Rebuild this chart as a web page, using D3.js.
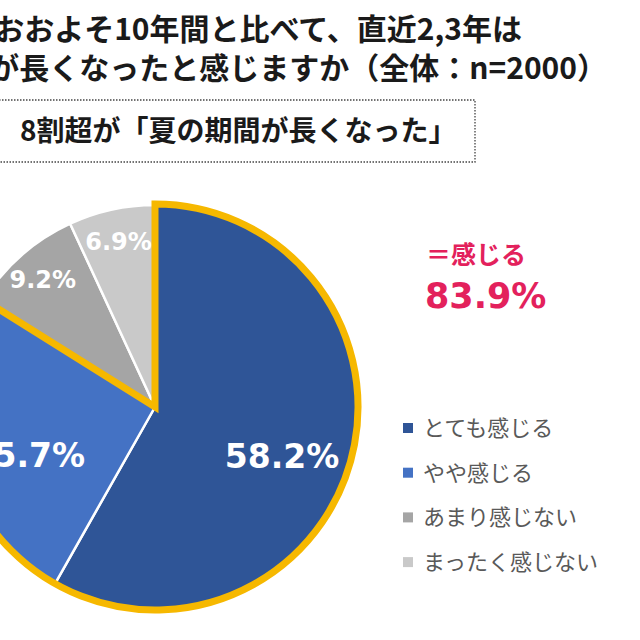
<!DOCTYPE html>
<html>
<head>
<meta charset="utf-8">
<script src="https://cdn.jsdelivr.net/npm/d3@7"></script>
<style>
    body { margin: 0; background: #fff; }
    svg { display: block; }
</style>
</head>
<body>
<svg id="chart" width="640" height="640"></svg>
<script>
"use strict";
var categories = ['とても感じる', 'やや感じる', 'あまり感じない', 'まったく感じない'];
var values = [58.2, 25.7, 9.2, 6.9];
var colors = ['#2f5597', '#4472c4', '#a5a5a5', '#c9c9c9'];
var title_lines = ['過去おおよそ10年間と比べて、直近2,3年は', '夏の期間が長くなったと感じますか（全体：n=2000）'];
var box_text = '8割超が「夏の期間が長くなった」';
var total_label = '＝感じる';
var total_value = values[0] + values[1];
var font_jp = '"Noto Sans CJK JP", "Noto Sans", sans-serif';
var font_num = '"DejaVu Sans", Verdana, sans-serif';

function draw() {
    var svg = d3.select('#chart');
    var cx = 155, cy = 407, r = 202;

    // title
    svg.selectAll('.title')
        .data(title_lines)
        .enter().append('text')
        .classed('title', true)
        .attr('x', function (d, i) { return i == 0 ? 522 : 607; })
        .attr('y', function (d, i) { return 40 + i * 39; })
        .attr('text-anchor', 'end')
        .style('font-family', font_jp)
        .style('font-weight', 'bold')
        .style('font-size', '30px')
        .attr('fill', '#1a1a1a')
        .text(function (d) { return d; });

    // dotted box
    svg.append('rect')
        .attr('x', -10)
        .attr('y', 100)
        .attr('width', 485)
        .attr('height', 62)
        .attr('fill', 'none')
        .attr('stroke', '#444')
        .attr('stroke-width', 1.3)
        .attr('stroke-dasharray', '1.5,1.5');
    svg.append('text')
        .attr('x', 20)
        .attr('y', 141)
        .style('font-family', font_jp)
        .style('font-weight', 'bold')
        .style('font-size', '28px')
        .attr('fill', '#1a1a1a')
        .text(box_text);

    // pie
    var pie = d3.pie().sort(null).value(function (d) { return d; });
    var arcs = pie(values);
    var arc = d3.arc().innerRadius(0).outerRadius(r);
    var g = svg.append('g')
        .attr('transform', 'translate(' + cx + ',' + cy + ')');
    g.selectAll('.slice')
        .data(arcs)
        .enter().append('path')
        .classed('slice', true)
        .attr('d', arc)
        .attr('fill', function (d, i) { return colors[i]; })
        .attr('stroke', 'white')
        .attr('stroke-width', 2.5)
        .attr('stroke-linejoin', 'round');

    // yellow outline round the "感じる" group
    var outline = d3.arc().innerRadius(0).outerRadius(r + 1)({
        startAngle: arcs[0].startAngle,
        endAngle: arcs[1].endAngle
    });
    g.append('path')
        .attr('d', outline)
        .attr('fill', 'none')
        .attr('stroke', '#f6b800')
        .attr('stroke-width', 7)
        .attr('stroke-linejoin', 'miter');

    // slice labels
    g.selectAll('.plabel')
        .data(arcs)
        .enter().append('text')
        .classed('plabel', true)
        .attr('transform', function (d) {
            var small = d.value < 15;
            var lr = small ? r * 0.84 : r * 0.65;
            var a = (d.startAngle + d.endAngle) / 2;
            var x = Math.sin(a) * lr;
            var y = -Math.cos(a) * lr + (small ? 0 : 16);
            return 'translate(' + x + ',' + y + ')';
        })
        .attr('text-anchor', 'middle')
        .attr('dy', '0.36em')
        .style('font-family', font_num)
        .style('font-weight', 'bold')
        .style('font-size', function (d) { return d.value < 15 ? '24px' : '33px'; })
        .attr('fill', 'white')
        .text(function (d) { return d.value.toFixed(1) + '%'; });

    // total callout
    svg.append('text')
        .attr('x', 426)
        .attr('y', 264)
        .style('font-family', font_jp)
        .style('font-weight', 'bold')
        .style('font-size', '25px')
        .attr('fill', '#e3215c')
        .text(total_label);
    svg.append('text')
        .attr('x', 425)
        .attr('y', 308)
        .style('font-family', font_num)
        .style('font-weight', 'bold')
        .style('font-size', '35px')
        .attr('fill', '#e3215c')
        .text(total_value.toFixed(1) + '%');

    // legend
    var legend = svg.selectAll('.legend')
        .data(categories)
        .enter().append('g')
        .classed('legend', true)
        .attr('transform', function (d, i) { return 'translate(403,' + (428 + i * 44.7) + ')'; });
    legend.append('rect')
        .attr('x', 0)
        .attr('y', -5)
        .attr('width', 10)
        .attr('height', 10)
        .attr('fill', function (d, i) { return colors[i]; });
    legend.append('text')
        .attr('x', 20)
        .attr('dy', '0.36em')
        .style('font-family', font_jp)
        .style('font-size', '22px')
        .attr('fill', '#595959')
        .text(function (d) { return d; });
}
draw();
</script>
</body>
</html>
